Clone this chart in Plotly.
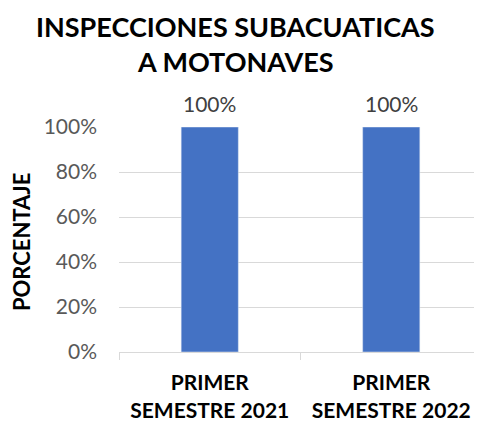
import plotly.graph_objects as go

categories = ["PRIMER<br>SEMESTRE 2021", "PRIMER<br>SEMESTRE 2022"]
values = [1.0, 1.0]
y_ticks = [0, 0.2, 0.4, 0.6, 0.8, 1.0]

_BLUE = "#4472C4"
_GRID = "#D9D9D9"
_FONT = "Lato, Open Sans, sans-serif"

x_labels = [f"<b>{c}</b>" for c in categories]

fig = go.Figure(go.Bar(
    x=x_labels, y=values,
    marker_color=_BLUE,
    width=0.315,
    cliponaxis=False,
))

# data labels above the bars
for xl, v in zip(x_labels, values):
    fig.add_annotation(x=xl, y=v, text=f"{v:.0%}", showarrow=False,
                       yanchor="middle", yshift=24,
                       font={"size": 21, "color": "#404040", "family": _FONT})

# title, two lines
fig.add_annotation(x=0.322, y=1.448, xref="paper", yref="paper", showarrow=False,
                   text="<b>INSPECCIONES SUBACUATICAS</b>", xanchor="center", yanchor="middle",
                   font={"size": 27, "color": "black", "family": _FONT})
fig.add_annotation(x=0.322, y=1.293, xref="paper", yref="paper", showarrow=False,
                   text="<b>A MOTONAVES</b>", xanchor="center", yanchor="middle",
                   font={"size": 27, "color": "black", "family": _FONT})
# y axis title
fig.add_annotation(x=-0.27, y=0.493, xref="paper", yref="paper", showarrow=False,
                   text="<b>PORCENTAJE</b>", textangle=-90, xanchor="center", yanchor="middle",
                   font={"size": 22, "color": "black", "family": _FONT})

# page body has an 8px margin, so margins are offset by 8px
fig.update_layout(
    width=482, height=424,
    paper_bgcolor="white", plot_bgcolor="white",
    margin={"l": 111, "r": 8, "t": 119, "b": 80},
    font={"family": _FONT},
    showlegend=False,
)
fig.update_xaxes(
    automargin=False,
    showline=True, linecolor=_GRID, linewidth=1,
    ticks="outside", tickson="boundaries", ticklen=7, tickcolor=_GRID,
    tickfont={"size": 21, "color": "black", "family": _FONT},
    ticklabelstandoff=12,
)
fig.update_yaxes(
    automargin=False,
    range=[0, 1], tickvals=y_ticks, tickformat=".0%",
    showgrid=True, gridcolor=_GRID, zeroline=False,
    tickfont={"size": 21, "color": "#595959", "family": _FONT},
    ticklabelstandoff=21,
)

fig.write_html("out.html")
